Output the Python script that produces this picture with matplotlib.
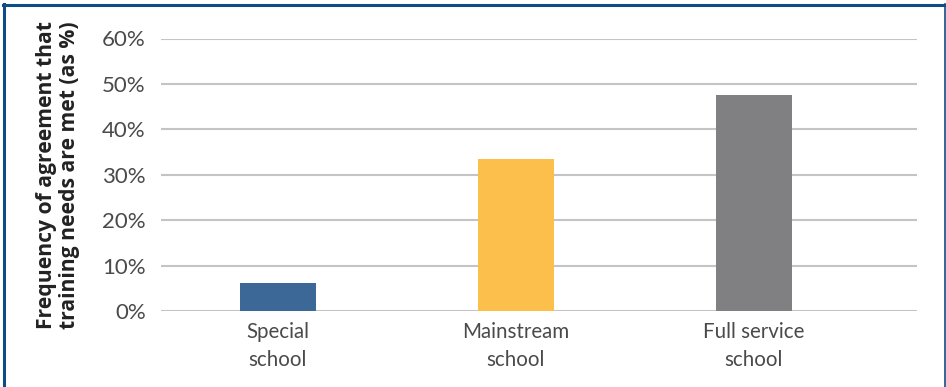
import matplotlib

matplotlib.use("Agg")

import matplotlib.pyplot as plt
from matplotlib.lines import Line2D
from matplotlib.ticker import PercentFormatter

# share of respondents agreeing that training needs are met
categories = ["Special\nschool", "Mainstream\nschool", "Full service\nschool"]
agreement = [6.2, 33.5, 47.5]
bar_colors = ["#3c6898", "#fdbf4c", "#808083"]
yticks = [0, 10, 20, 30, 40, 50, 60]

W, H = 946, 387
fig = plt.figure(figsize=(W / 100, H / 100), dpi=100)
ax = fig.add_axes([161 / W, 1 - 311 / H, (917 - 161) / W, (311 - 38.5) / H])

x = list(range(len(categories)))
ax.bar(x, agreement, width=0.32, color=bar_colors, zorder=3)

ax.set_ylim(0, 60)
ax.set_xlim(-0.49, 2.685)
ax.set_yticks(yticks)
ax.yaxis.set_major_formatter(PercentFormatter(decimals=0))
ax.set_xticks(x)
ax.set_xticklabels(categories, linespacing=1.5)
ax.grid(axis="y", color="#c4c4c4", linewidth=1.5, zorder=0)
ax.tick_params(length=0, labelcolor="#4a4a4a")
ax.tick_params(axis="y", pad=11, labelsize=16)
ax.tick_params(axis="x", pad=8, labelsize=14.8)
for lbl in ax.get_xticklabels() + ax.get_yticklabels():
    lbl.set_fontfamily("Lato")
for s in ax.spines.values():
    s.set_visible(False)

fig.text(58 / W, 1 - 175 / H, "Frequency of agreement that\ntraining needs are met (as %)",
         rotation=90, ha="center", va="center", multialignment="center",
         fontsize=15.2, fontweight="bold", fontfamily="Open Sans", color="#222222",
         linespacing=1.12)

# dark blue frame round the chart
frame = "#0f4c88"
fig.add_artist(Line2D([3.5 / W, 3.5 / W], [0, 1 - 4 / H], color=frame, lw=2.2))
fig.add_artist(Line2D([2.5 / W, 945.5 / W], [1 - 5 / H, 1 - 5 / H], color=frame, lw=2.2))
fig.add_artist(Line2D([945 / W, 945 / W], [0, 1 - 4 / H], color=frame, lw=1.2))

fig.savefig("out.png", dpi=100)
